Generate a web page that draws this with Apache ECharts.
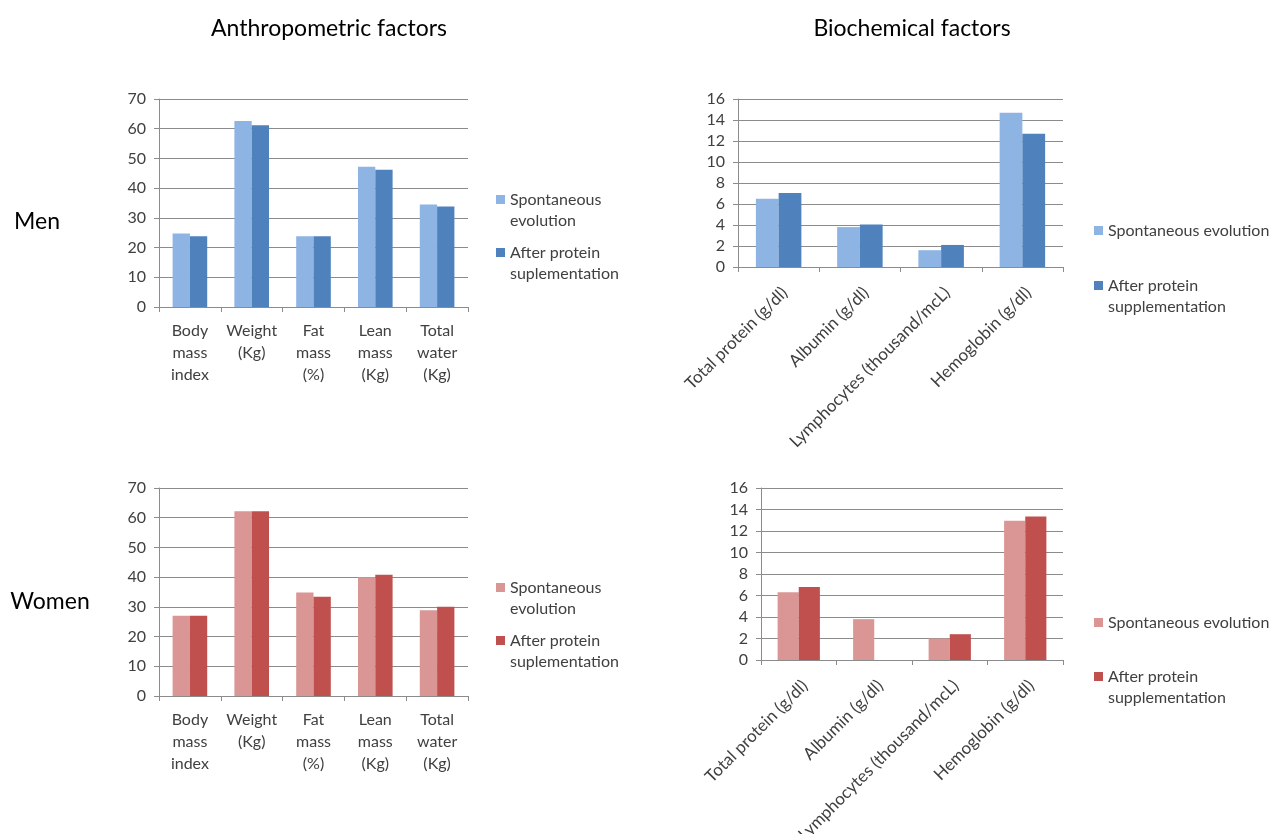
<!DOCTYPE html>
<html>
<head>
<meta charset="utf-8">
<title>Anthropometric and biochemical factors</title>
<script src="https://cdn.jsdelivr.net/npm/echarts@6/dist/echarts.min.js"></script>
<style>
  html, body { margin: 0; padding: 0; background: #fff; }
  #chart { width: 1275px; height: 834px; }
</style>
</head>
<body>
<div id="chart"></div>
<script>
// Category labels
const anthroCategories = ['Body\nmass\nindex', 'Weight\n(Kg)', 'Fat\nmass\n(%)', 'Lean\nmass\n(Kg)', 'Total\nwater\n(Kg)'];
const bioCategories = ['Total protein (g/dl)', 'Albumin (g/dl)', 'Lymphocytes (thousand/mcL)', 'Hemoglobin (g/dl)'];

// Men
const menAnthroSpontaneous = [24.7, 62.6, 23.8, 47.2, 34.5];
const menAnthroProtein     = [23.8, 61.2, 23.8, 46.2, 33.8];
const menBioSpontaneous    = [6.5, 3.8, 1.6, 14.7];
const menBioProtein        = [7.05, 4.05, 2.1, 12.7];

// Women
const womenAnthroSpontaneous = [27.0, 62.2, 34.8, 40.0, 28.9];
const womenAnthroProtein     = [27.0, 62.2, 33.4, 40.8, 30.0];
const womenBioSpontaneous    = [6.3, 3.8, 2.0, 12.95];
const womenBioProtein        = [6.8, null, 2.4, 13.35];

// Axis ranges
const anthroAxis = { max: 70, interval: 10 };
const bioAxis = { max: 16, interval: 2 };

// Legend texts
const legendText = {
  menA1: 'Spontaneous\nevolution',
  menA2: 'After protein\nsuplementation',
  menB1: 'Spontaneous evolution',
  menB2: 'After protein\nsupplementation',
  womenA1: 'Spontaneous\nevolution',
  womenA2: 'After protein\nsuplementation',
  womenB1: 'Spontaneous evolution',
  womenB2: 'After protein\nsupplementation'
};

const FONT = 'Lato, "Liberation Sans", sans-serif';
const TEXT = '#404040';
const LINE = '#8c8c8c';
const blueLight = '#8EB4E3', blueDark = '#4F81BD';
const redLight = '#D99694', redDark = '#C0504D';

// Fixed plot areas; labels may run past the canvas edge
const grids = [
  { left: 159, top: 99, width: 309, height: 208, outerBoundsMode: 'none' },   // men anthropometric
  { left: 738, top: 99, width: 325, height: 168, outerBoundsMode: 'none' },   // men biochemical
  { left: 159, top: 488, width: 309, height: 208, outerBoundsMode: 'none' },  // women anthropometric
  { left: 761, top: 488, width: 302, height: 172, outerBoundsMode: 'none' }   // women biochemical
];

function xAxis(gridIndex, cats, rotated) {
  return {
    type: 'category', gridIndex, data: cats,
    axisLine: { lineStyle: { color: LINE, width: 1 } },
    axisTick: { show: true, length: 5, lineStyle: { color: LINE } },
    axisLabel: rotated
      ? { rotate: 45, interval: 0, margin: 17, verticalAlign: 'top', color: TEXT, fontFamily: FONT, fontSize: 17 }
      : { interval: 0, margin: 13, color: TEXT, fontFamily: FONT, fontSize: 16, lineHeight: 22 }
  };
}
function yAxis(gridIndex, range) {
  return {
    type: 'value', gridIndex, min: 0, max: range.max, interval: range.interval,
    axisLine: { show: true, lineStyle: { color: LINE, width: 1 } },
    axisTick: { show: true, length: 5, lineStyle: { color: LINE } },
    axisLabel: { margin: 13, color: TEXT, fontFamily: FONT, fontSize: 16 },
    splitLine: { lineStyle: { color: LINE, width: 1 } }
  };
}
function bar(name, idx, data, color) {
  return {
    type: 'bar', name, xAxisIndex: idx, yAxisIndex: idx, data,
    barGap: '0%', barCategoryGap: '44%',
    itemStyle: { color },
    silent: true
  };
}

// Legend text is centred on its swatch, so a leading empty line puts
// the swatch beside the first line of a two-line entry.
function legend(left, top, gap, names) {
  return {
    orient: 'vertical', left, top, padding: 0,
    itemWidth: 9, itemHeight: 9, itemGap: gap,
    icon: 'rect', selectedMode: false,
    textStyle: { color: TEXT, fontFamily: FONT, fontSize: 16, lineHeight: 21 },
    formatter: n => (legendText[n].indexOf('\n') >= 0 ? '\n' : '') + legendText[n],
    data: names
  };
}

function label(text, x, y, size) {
  return {
    type: 'text', x, y, silent: true,
    style: { text, fill: '#000', font: size + 'px ' + FONT, align: 'center', verticalAlign: 'middle' }
  };
}

const chart = echarts.init(document.getElementById('chart'), null, { renderer: 'canvas' });
chart.setOption({
  animation: false,
  backgroundColor: '#fff',
  grid: grids,
  xAxis: [
    xAxis(0, anthroCategories, false),
    xAxis(1, bioCategories, true),
    xAxis(2, anthroCategories, false),
    xAxis(3, bioCategories, true)
  ],
  yAxis: [yAxis(0, anthroAxis), yAxis(1, bioAxis), yAxis(2, anthroAxis), yAxis(3, bioAxis)],
  legend: [
    legend(496, 168, -10, ['menA1', 'menA2']),
    legend(1094, 220, 13, ['menB1', 'menB2']),
    legend(496, 556, -10, ['womenA1', 'womenA2']),
    legend(1094, 612, 12, ['womenB1', 'womenB2'])
  ],
  series: [
    bar('menA1', 0, menAnthroSpontaneous, blueLight),
    bar('menA2', 0, menAnthroProtein, blueDark),
    bar('menB1', 1, menBioSpontaneous, blueLight),
    bar('menB2', 1, menBioProtein, blueDark),
    bar('womenA1', 2, womenAnthroSpontaneous, redLight),
    bar('womenA2', 2, womenAnthroProtein, redDark),
    bar('womenB1', 3, womenBioSpontaneous, redLight),
    bar('womenB2', 3, womenBioProtein, redDark)
  ],
  graphic: [
    label('Anthropometric factors', 329, 29, 23),
    label('Biochemical factors', 912, 29, 23),
    label('Men', 37, 222, 23),
    label('Women', 50, 602, 23)
  ]
});
</script>
</body>
</html>
